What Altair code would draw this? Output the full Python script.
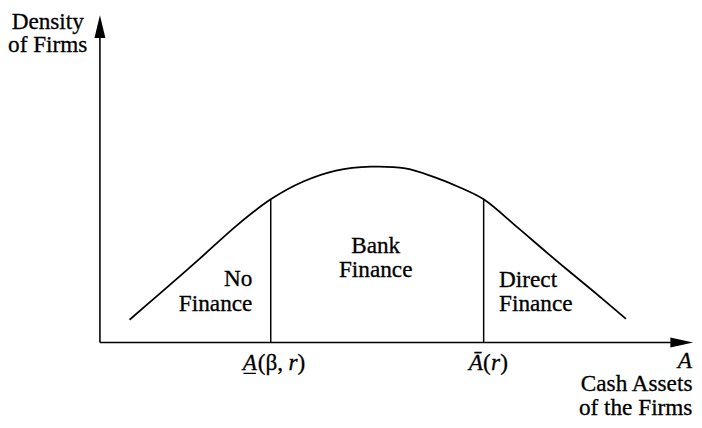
import altair as alt
import pandas as pd

# ---- data (asset units, density units) ----
curve_x = [5.0, 9.8, 16.5, 23.2, 28.8, 34.3, 39.8, 45.7, 51.5, 56.5, 60.7, 64.7, 70.3, 74.8, 78.7, 83.2, 88.7]
curve_y = [7.7, 16.0, 27.7, 39.7, 48.3, 54.3, 58.0, 59.3, 58.7, 55.7, 52.3, 48.3, 39.0, 31.3, 24.7, 17.3, 8.0]
cutoff_x = [28.8, 64.7]
cutoff_h = [48.3, 48.3]

y_axis_title = ["Density", "of Firms"]
x_axis_title = ["Cash Assets", "of the Firms"]
region_left = ["No", "Finance"]
region_mid = ["Bank", "Finance"]
region_right = ["Direct", "Finance"]

FONT = "Liberation Serif"
FS = 23.5

xs = alt.Scale(domain=[-15.5, 100.167], nice=False, zero=False)
ys = alt.Scale(domain=[-28, 112], nice=False, zero=False)

def X(f="x"):
    return alt.X(f"{f}:Q", scale=xs, axis=None)

def Y(f="y"):
    return alt.Y(f"{f}:Q", scale=ys, axis=None)

# axes lines
axes_df = pd.DataFrame({"x": [0, 0], "y": [0, 0], "x2": [0, 96.3], "y2": [102.8, 0]})
axes = alt.Chart(axes_df).mark_rule(color="black", strokeWidth=1.6).encode(
    x=X(), y=Y(), x2="x2:Q", y2="y2:Q")

up_arrow = alt.Chart(pd.DataFrame({"x": [0], "y": [106.5]})).mark_point(
    shape="M0,-1L0.48,1L-0.48,1Z", size=529, filled=True, opacity=1, color="black", strokeWidth=0
).encode(x=X(), y=Y())
right_arrow = alt.Chart(pd.DataFrame({"x": [98.1], "y": [0]})).mark_point(
    shape="M1,0L-1,0.44L-1,-0.44Z", size=529, filled=True, opacity=1, color="black", strokeWidth=0
).encode(x=X(), y=Y())

curve = alt.Chart(pd.DataFrame({"x": curve_x, "y": curve_y})).mark_line(
    color="black", strokeWidth=1.8, interpolate="catmull-rom").encode(x=X(), y=Y())

cut = alt.Chart(pd.DataFrame({"x": cutoff_x, "y": [0, 0], "y2": cutoff_h})).mark_rule(
    color="black", strokeWidth=1.5).encode(x=X(), y=Y(), y2="y2:Q")

def text_layer(df, align, style="normal"):
    return alt.Chart(df).mark_text(
        font=FONT, fontSize=FS, align=align, baseline="alphabetic",
        fontStyle=style, color="black", stroke="black", strokeWidth=0.3
    ).encode(x=X(), y=Y(), text="t:N")

t_center = pd.DataFrame({
    "t": y_axis_title + region_mid,
    "x": [-8.8, -8.8, 46.5, 46.5],
    "y": [105.9, 97.9, 30.3, 22.0],
})
t_right = pd.DataFrame({
    "t": region_left + x_axis_title,
    "x": [25.7, 25.7, 99.9, 99.9],
    "y": [19.0, 10.7, -16.4, -24.3],
})
t_left = pd.DataFrame({
    "t": region_right + ["(β,", ")", "(", ")"],
    "x": [67.3, 67.3, 26.6, 33.3, 64.6, 67.5],
    "y": [18.7, 10.7, -9.3, -9.3, -9.3, -9.3],
})
t_left_it = pd.DataFrame({
    "t": ["A", "r", "Ā", "r"],
    "x": [24.1, 31.8, 62.2, 65.95],
    "y": [-9.3, -9.3, -9.3, -9.3],
})
t_right_it = pd.DataFrame({"t": ["A"], "x": [99.8], "y": [-8.5]})

underline = alt.Chart(pd.DataFrame({"x": [24.2], "x2": [26.3], "y": [-10.4]})).mark_rule(
    color="black", strokeWidth=1.3).encode(x=X(), x2="x2:Q", y=Y())

chart = alt.layer(
    axes, up_arrow, right_arrow, curve, cut,
    text_layer(t_center, "center"),
    text_layer(t_right, "right"),
    text_layer(t_left, "left"),
    text_layer(t_left_it, "left", "italic"),
    text_layer(t_right_it, "right", "italic"),
    underline,
).properties(
    width=694, height=420, padding=0, autosize=alt.AutoSizeParams(type="none"),
    background="white",
).configure_view(stroke=None)

chart.save("out.html", embed_options={"renderer": "svg", "actions": False})
